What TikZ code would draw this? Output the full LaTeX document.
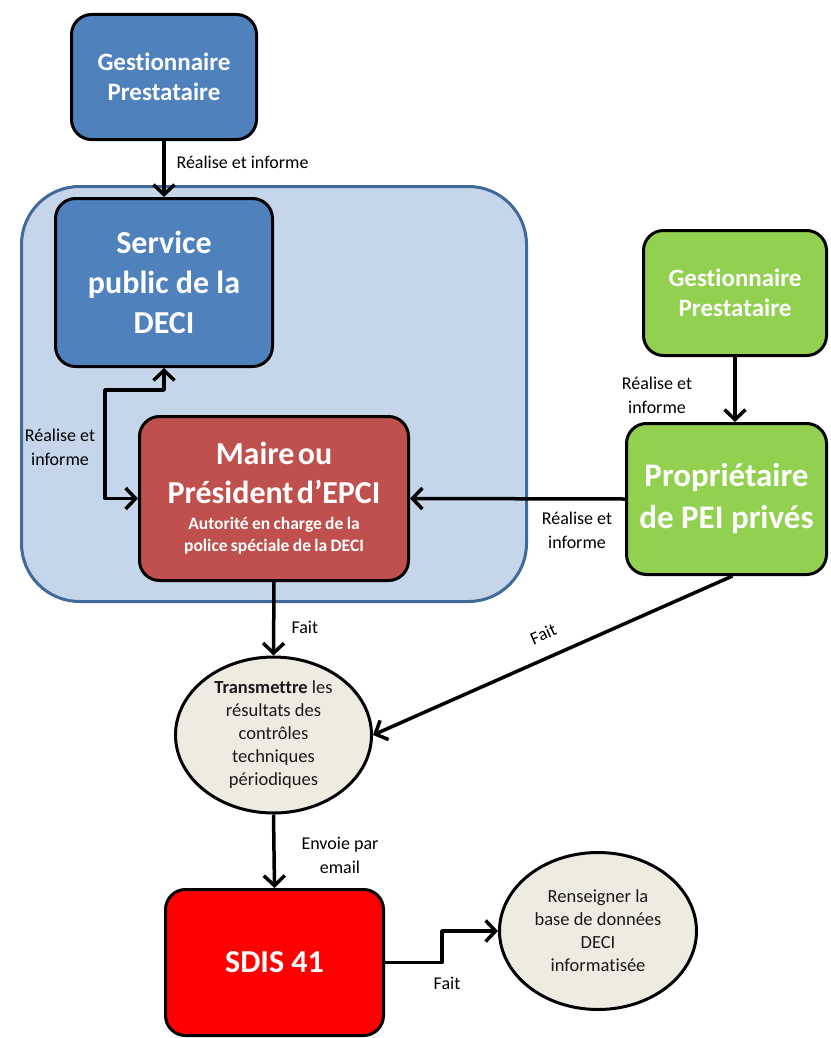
\documentclass[tikz,border=0pt]{standalone}
\usepackage{fontspec}
\setmainfont{Carlito}[Ligatures=NoCommon]
\usetikzlibrary{shapes.geometric,arrows.meta}
\definecolor{bleuBoite}{HTML}{4F81BD}
\definecolor{bleuZone}{HTML}{C6D6EA}
\definecolor{bleuCadre}{HTML}{41699A}
\definecolor{rougeMaire}{HTML}{C0504D}
\definecolor{vertBoite}{HTML}{92D050}
\definecolor{beige}{HTML}{EEECE1}
\definecolor{rougeSdis}{HTML}{FF0000}
\begin{document}
\begin{tikzpicture}[x=1pt,y=-1pt,line join=round,>={Straight Barb[length=10pt,width=21pt]}]
	\tikzset{boite/.style={draw=black,line width=3pt,rounded corners=20pt,text=white,align=center},
		bulle/.style={ellipse,draw=black,line width=3pt,fill=beige,align=center,inner sep=0pt,text=black!90,font=\fontsize{18.5}{23}\selectfont},
		fleche/.style={line width=3.5pt,->},
		etiq/.style={align=center,font=\fontsize{18}{24}\selectfont}}
	\useasboundingbox (0,0) rectangle (830,1038);
	\node[draw=bleuCadre,line width=3pt,fill=bleuZone,rounded corners=58pt,minimum width=505pt,minimum height=415pt] (zone) at (274,394) {};
	\node[boite,fill=bleuBoite,minimum width=185pt,minimum height=125pt,font=\fontsize{25}{30}\selectfont\bfseries] (gestA) at (164,77) {Gestionnaire\\Prestataire};
	\node[boite,fill=bleuBoite,minimum width=217pt,minimum height=168pt,font=\fontsize{32}{40}\selectfont\bfseries] (service) at (164,282.5) {Service\\public de la\\DECI};
	\node[boite,fill=rougeMaire,minimum width=269pt,minimum height=164pt,text width=262pt] (maire) at (274,498.5) {\bfseries{\fontsize{32}{39}\selectfont Maire ou\\Président d’EPCI\par}\vspace{4pt}{\fontsize{17.5}{22}\selectfont Autorité en charge de la\\police spéciale de la DECI\par}};
	\node[boite,fill=vertBoite,minimum width=183pt,minimum height=125pt,font=\fontsize{25}{30}\selectfont\bfseries] (gestB) at (735,293) {Gestionnaire\\Prestataire};
	\node[boite,fill=vertBoite,minimum width=200pt,minimum height=151pt,font=\fontsize{33}{42}\selectfont\bfseries] (proprio) at (726.5,499) {Propriétaire\\de PEI privés};
	\node[bulle,minimum width=196pt,minimum height=156pt] (transmettre) at (273.5,735) {\textbf{Transmettre} les\\résultats des\\contrôles\\techniques\\périodiques};
	\node[boite,fill=rougeSdis,minimum width=218pt,minimum height=146pt,font=\fontsize{32}{40}\selectfont\bfseries] (sdis) at (274.5,962.5) {SDIS 41};
	\node[bulle,minimum width=197pt,minimum height=157pt] (renseigner) at (598,931) {Renseigner la\\base de données\\DECI\\informatisée};
	\draw[fleche] (gestA.south) -- (service.north);
	\node[etiq,anchor=west] (lab1) at (173,162) {Réalise et informe};
	\draw[fleche,<->] (service.south) |- (105,390) |- (maire.west);
	\node[etiq] (lab2) at (60,447) {Réalise et\\informe};
	\draw[fleche] (gestB.south) -- (gestB.south |- proprio.north);
	\node[etiq] (lab3) at (657,395) {Réalise et\\informe};
	\draw[fleche] (proprio.west) -- (maire.east);
	\node[etiq] (lab4) at (577,530) {Réalise et\\informe};
	\draw[fleche] (maire.south) -- (transmettre.north);
	\node[etiq,anchor=west] (lab5) at (288,627) {Fait};
	\draw[fleche] ([xshift=6pt]proprio.south) -- (transmettre.east) node[midway,sloped,above=12pt,etiq] (lab6) {Fait};
	\draw[fleche] (transmettre.south) -- (sdis.north);
	\node[etiq] (lab7) at (340,855) {Envoie par\\email};
	\draw[fleche] (sdis.east) -- ++(57,0) |- (renseigner.west);
	\node[etiq] (lab8) at (447,983) {Fait};
\end{tikzpicture}
\end{document}
